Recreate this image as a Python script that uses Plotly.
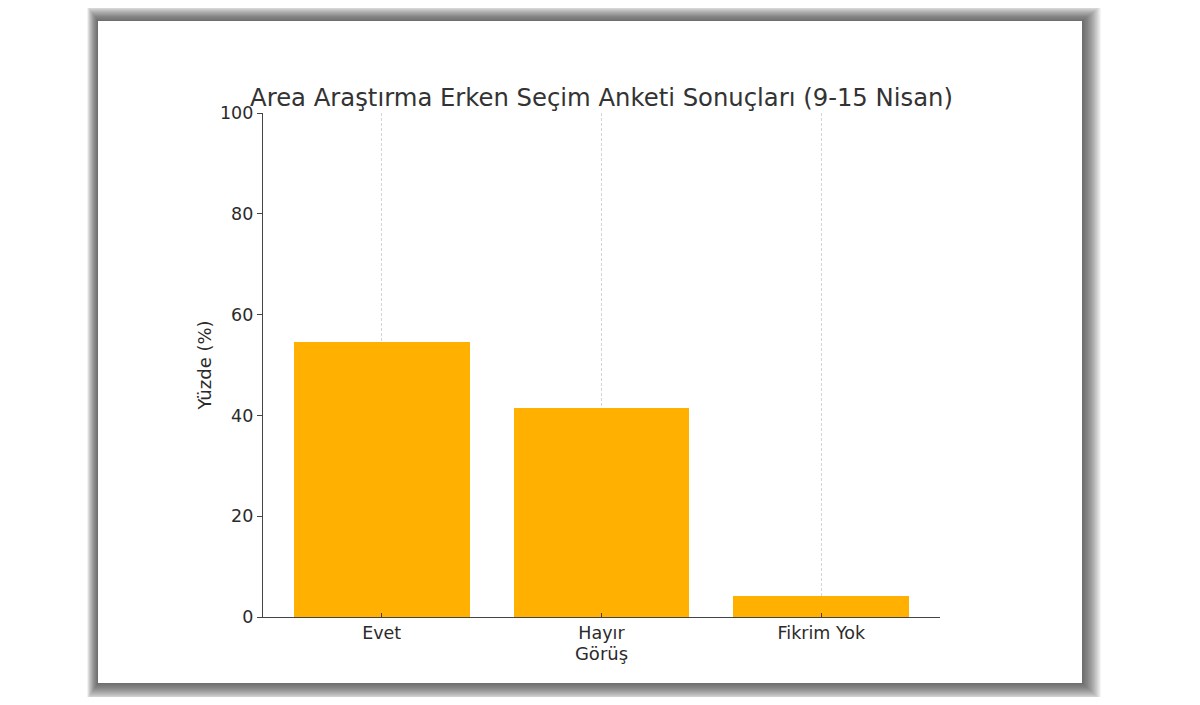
import plotly.graph_objects as go

# Dane z wykresu
kategoriler = ["Evet", "Hayır", "Fikrim Yok"]
yuzdeler = [54.5, 41.4, 4.1]
y_ticks = [0, 20, 40, 60, 80, 100]

# page has an 8px body margin, so the figure sits at (8, 8)
OFF = 8
W, H = 1200 - 2 * OFF, 705 - 2 * OFF
L, R, T, B = 263 - OFF, 940 - OFF, 113 - OFF, 617 - OFF  # plot area in figure pixels


def px(x):
    return (x - OFF - L) / (R - L)


def py(y):
    return (B - (y - OFF)) / (B - T)


fig = go.Figure()
fig.add_trace(go.Bar(
    x=kategoriler,
    y=yuzdeler,
    width=0.8,
    marker=dict(color="#FFB000", line=dict(width=0)),
    hoverinfo="x+y",
))

# white card with blurred shadow
shapes = []
n = 32
for i in range(n, 0, -1):
    s = i / n
    shapes.append(dict(
        type="rect", xref="paper", yref="paper", layer="below",
        x0=px(98 - s * 11), x1=px(1082 + s * 19),
        y0=py(683 + s * 17), y1=py(21 - s * 15),
        fillcolor="rgba(50,50,50,0.034)", line=dict(width=0),
    ))
shapes.append(dict(
    type="rect", xref="paper", yref="paper", layer="below",
    x0=px(98), x1=px(1082), y0=py(683), y1=py(21),
    fillcolor="white", line=dict(width=0),
))

fig.update_layout(
    width=W, height=H,
    margin=dict(l=L, r=W - R, t=T, b=H - B, pad=0),
    paper_bgcolor="white",
    plot_bgcolor="rgba(0,0,0,0)",
    font=dict(family="DejaVu Sans", color="#2b2b2b", size=17.5),
    title=dict(
        text="Area Araştırma Erken Seçim Anketi Sonuçları (9-15 Nisan)",
        xref="paper", x=0.5, xanchor="center",
        yref="container", y=1 - (97 - OFF) / H, yanchor="middle",
        font=dict(size=24.3, color="#333333"),
    ),
    shapes=shapes,
    showlegend=False,
    bargap=0,
)

fig.update_xaxes(
    range=[-0.54, 2.54],
    showline=True, linecolor="#444444", linewidth=1.3,
    ticks="inside", ticklen=4, tickcolor="#444444",
    showgrid=True, gridcolor="rgba(160,160,160,0.45)", griddash="3px,2px", gridwidth=1,
    layer="above traces",
    title=dict(text="Görüş", standoff=4, font=dict(size=18)),
    tickfont=dict(size=17.5),
)
fig.update_yaxes(
    range=[0, 100], tickvals=y_ticks,
    showline=True, linecolor="#444444", linewidth=1.3,
    ticks="outside", ticklen=5, tickcolor="#444444",
    showgrid=False, zeroline=False,
    title=dict(text="Yüzde (%)", standoff=3, font=dict(size=18)),
    tickfont=dict(size=17.5),
)

fig.write_html("out.html")
